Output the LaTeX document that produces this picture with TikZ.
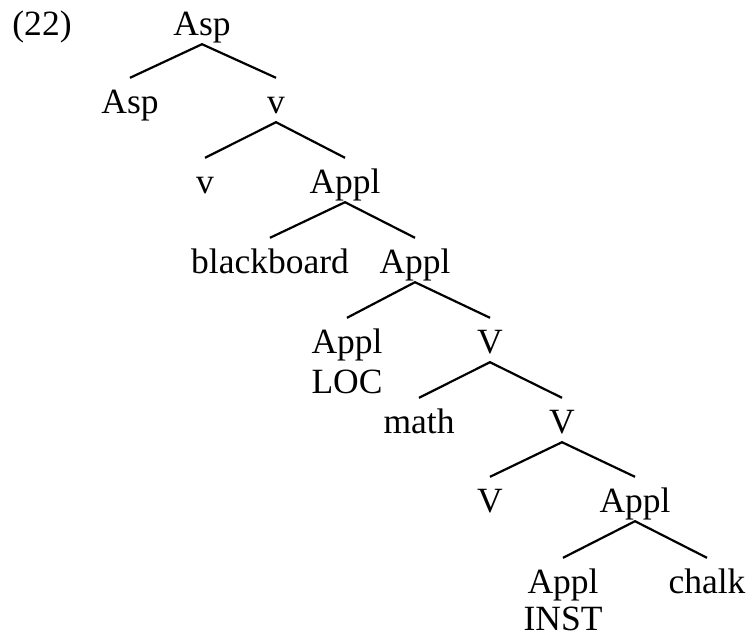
\documentclass[tikz,border=0pt]{standalone}
\usepackage{fontspec}
\setmainfont{Liberation Serif}
\usetikzlibrary{positioning}

\begin{document}
\begin{tikzpicture}[x=1pt,y=-1pt,font=\fontsize{35.5}{40}\selectfont,
    cat/.style={anchor=base,inner sep=4pt,text height=31pt,text depth=5pt},
    sub/.style={anchor=base,inner sep=0pt},
    branch/.style={line width=2.2pt}]
    \useasboundingbox (0,0) rectangle (749,635);
    \node [sub] (exnum) at (42,35) {(22)};
    \node [cat] (asp) at (202,35) {Asp};
    \node [cat] (aspHead) at (130,113) {Asp};
    \node [cat] (vP) at (276,113) {v};
    \node [cat] (vHead) at (205,193) {v};
    \node [cat] (applP) at (345,193) {Appl};
    \node [cat] (board) at (270,273) {blackboard};
    \node [cat] (applBar) at (415,273) {Appl};
    \node [cat] (applLoc) at (347,353) {Appl};
    \node [sub] (locSub) at (347,393) {LOC};
    \node [cat] (VP) at (490,353) {V};
    \node [cat] (math) at (419,433) {math};
    \node [cat] (VBar) at (562,433) {V};
    \node [cat] (VHead) at (490,512) {V};
    \node [cat] (applInstP) at (635,512) {Appl};
    \node [cat] (applInst) at (563,593) {Appl};
    \node [sub] (instSub) at (563,630) {INST};
    \node [cat] (chalk) at (707,593) {chalk};

    \draw [branch] (aspHead.north) -- (asp.south) -- (vP.north);
    \draw [branch] (vHead.north) -- (vP.south) -- (applP.north);
    \draw [branch] (board.north) -- (applP.south) -- (applBar.north);
    \draw [branch] (applLoc.north) -- (applBar.south) -- (VP.north);
    \draw [branch] (math.north) -- (VP.south) -- (VBar.north);
    \draw [branch] (VHead.north) -- (VBar.south) -- (applInstP.north);
    \draw [branch] (applInst.north) -- (applInstP.south) -- (chalk.north);
\end{tikzpicture}
\end{document}
